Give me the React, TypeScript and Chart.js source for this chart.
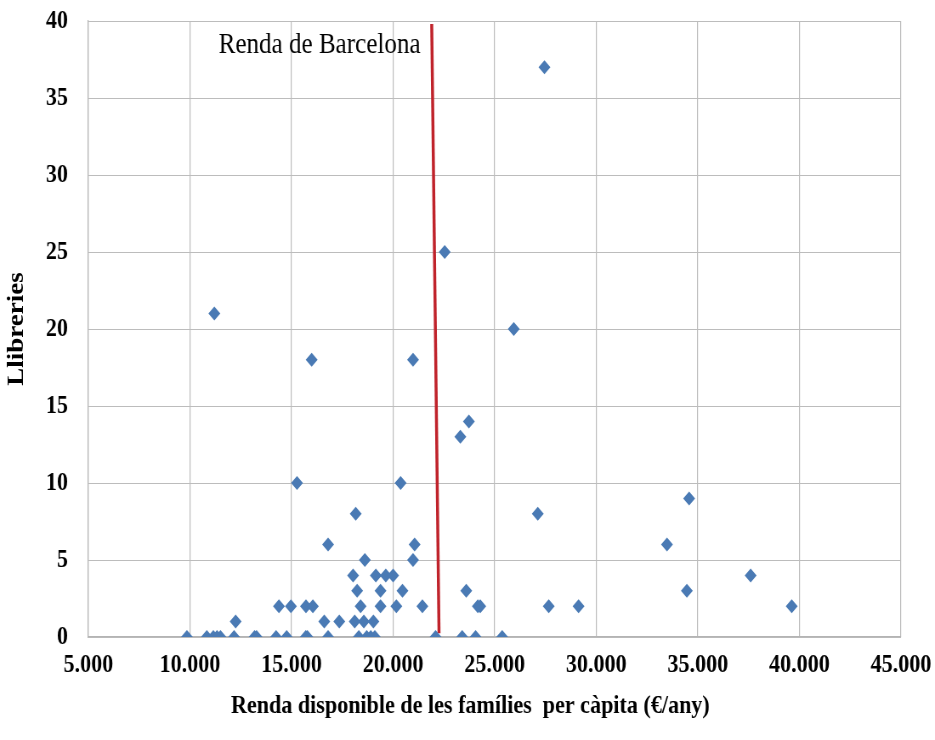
import React, { useEffect, useRef } from "react";
import { Chart, registerables } from "chart.js";

Chart.register(...registerables);

// Renda disponible (€/any) and number of bookshops (Llibreries) per neighbourhood
const rendaValues: number[] = [
  // y = 0
  9850, 10830, 11150, 11330, 11500, 12170, 13180, 13280, 14240, 14760, 15700, 15780, 16800,
  18310, 18700, 18900, 19100, 22090, 23400, 24060, 25370,
  // y = 1
  12250, 16610, 17350, 18110, 18560, 19030,
  // y = 2
  14380, 14970, 15710, 16050, 18400, 19380, 20160, 21440, 24170, 24290, 27660, 29130, 39620,
  // y = 3
  18230, 19380, 20460, 23600, 34460,
  // y = 4
  18030, 19150, 19640, 20000, 37600,
  // y = 5
  18610, 20980,
  // y = 6
  16800, 21060, 33480,
  // y = 8
  18160, 27120,
  // y = 9
  34570,
  // y = 10
  15270, 20370,
  // y = 13, 14
  23310, 23730,
  // y = 18
  15990, 20980,
  // y = 20, 21, 25, 37
  25940, 11200, 22540, 27450,
];
const llibreriesValues: number[] = [
  0, 0, 0, 0, 0, 0, 0, 0, 0, 0, 0, 0, 0,
  0, 0, 0, 0, 0, 0, 0, 0,
  1, 1, 1, 1, 1, 1,
  2, 2, 2, 2, 2, 2, 2, 2, 2, 2, 2, 2, 2,
  3, 3, 3, 3, 3,
  4, 4, 4, 4, 4,
  5, 5,
  6, 6, 6,
  8, 8,
  9,
  10, 10,
  13, 14,
  18, 18,
  20, 21, 25, 37,
];

// Barcelona average income reference line (slightly slanted in the original)
const barcelonaLineX: number[] = [21900, 22260];
const barcelonaLineY: number[] = [39.8, 0.25];
const barcelonaLabel = "Renda de Barcelona";
const barcelonaLabelX = 21350;
const barcelonaLabelY = 38.4;

const xTicks: number[] = [5000, 10000, 15000, 20000, 25000, 30000, 35000, 40000, 45000];
const yTicks: number[] = [0, 5, 10, 15, 20, 25, 30, 35, 40];

const xTitle = "Renda disponible de les famílies  per càpita (€/any)";
const yTitle = "Llibreries";

const fmtThousands = (v: number) =>
  String(Math.round(v)).replace(/\B(?=(\d{3})+(?!\d))/g, ".");

const SERIF = "'Liberation Serif', 'Times New Roman', serif";

// The original picture is horizontally compressed: draw wider, display at 935px.
const DISPLAY_W = 935;
const DISPLAY_H = 740;
const RENDER_W = 1100;

const textPlugin = {
  id: "extraText",
  afterDatasetsDraw(chart: any) {
    const { ctx, scales, chartArea } = chart;
    ctx.save();
    // annotation
    const x = scales.x.getPixelForValue(barcelonaLabelX);
    const y = scales.y.getPixelForValue(barcelonaLabelY);
    ctx.font = `29.5px ${SERIF}`;
    ctx.fillStyle = "#000";
    ctx.textAlign = "right";
    ctx.textBaseline = "middle";
    ctx.fillText(barcelonaLabel, x, y);
    // x axis title (slightly left of centre, as in the original)
    ctx.font = `bold 26px ${SERIF}`;
    ctx.textAlign = "center";
    const tx = chartArea.left + (chartArea.right - chartArea.left) * 0.47;
    ctx.fillText(xTitle, tx, scales.x.bottom - 34);
    ctx.restore();
  },
};

export default function App() {
  const ref = useRef<HTMLCanvasElement | null>(null);

  useEffect(() => {
    if (!ref.current) return;
    const points = rendaValues.map((x, i) => ({ x, y: llibreriesValues[i] }));
    const line = barcelonaLineX.map((x, i) => ({ x, y: barcelonaLineY[i] }));
    const tickFont = { family: SERIF, size: 26, weight: "bold" as const };
    const zeroPad = (s: any) => {
      s.paddingTop = 0;
      s.paddingBottom = 0;
      s.paddingLeft = 0;
      s.paddingRight = 0;
    };
    const chart = new Chart(ref.current, {
      type: "scatter",
      data: {
        datasets: [
          {
            label: "Llibreries",
            data: points,
            pointStyle: "rectRot",
            pointRadius: 7,
            pointBackgroundColor: "#4a7ab4",
            pointBorderColor: "#4a7ab4",
            pointBorderWidth: 0,
            showLine: false,
            order: 0,
          },
          {
            label: "Renda de Barcelona",
            type: "line",
            data: line,
            borderColor: "#c0232b",
            borderWidth: 3.5,
            pointRadius: 0,
            showLine: true,
            fill: false,
            order: 1,
          } as any,
        ],
      },
      options: {
        responsive: false,
        animation: false,
        devicePixelRatio: 1,
        layout: { padding: { top: 21, right: 40, left: 0, bottom: 0 } },
        plugins: {
          legend: { display: false },
          tooltip: { enabled: false },
        },
        scales: {
          x: {
            type: "linear",
            min: 5000,
            max: 45000,
            afterBuildTicks: (s: any) => {
              s.ticks = xTicks.map((v) => ({ value: v }));
            },
            afterFit: (s: any) => {
              s.height = 103;
              zeroPad(s);
            },
            ticks: {
              callback: (v: any) => fmtThousands(Number(v)),
              font: tickFont,
              color: "#000",
              padding: 13,
              maxRotation: 0,
              autoSkip: false,
            },
            grid: { color: "#bcbcbc", lineWidth: 1.2, drawTicks: false },
            border: { color: "#b4b4b4", width: 1.2 },
            title: { display: false },
          },
          y: {
            type: "linear",
            min: 0,
            max: 40,
            afterBuildTicks: (s: any) => {
              s.ticks = yTicks.map((v) => ({ value: v }));
            },
            afterFit: (s: any) => {
              s.width = 104;
              zeroPad(s);
            },
            ticks: {
              font: tickFont,
              color: "#000",
              padding: 24,
            },
            grid: { color: "#bcbcbc", lineWidth: 1, drawTicks: false },
            border: { color: "#b4b4b4", width: 1.2 },
            title: {
              display: true,
              text: yTitle,
              font: { family: SERIF, size: 27, weight: "bold" },
              color: "#000",
              padding: { top: 4, bottom: 0 },
            },
          },
        },
      },
      plugins: [textPlugin],
    });
    return () => chart.destroy();
  }, []);

  return (
    <canvas
      ref={ref}
      width={RENDER_W}
      height={DISPLAY_H}
      style={{
        position: "absolute",
        left: 0,
        top: 0,
        display: "block",
        width: `${DISPLAY_W}px`,
        height: `${DISPLAY_H}px`,
        background: "#fff",
      }}
    />
  );
}
